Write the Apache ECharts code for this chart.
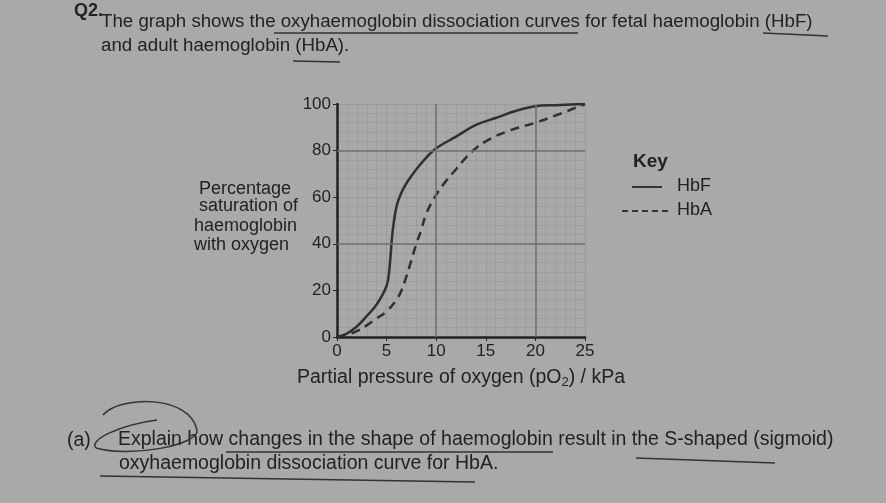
<!DOCTYPE html>
<html><head><meta charset="utf-8">
<script src="https://cdn.jsdelivr.net/npm/echarts@6/dist/echarts.min.js"></script>
<style>html,body{margin:0;padding:0;background:#a9a9a9;}#c{width:886px;height:503px;}</style>
</head><body><div id="c"></div>
<script>
const xTicks = [0, 5, 10, 15, 20, 25];
const yTicks = [0, 20, 40, 60, 80, 100];
const hbfX = [0, 1, 2, 3, 4, 5, 5.3, 5.6, 6, 6.5, 7, 8, 9, 10, 12, 14, 16, 18, 20, 22, 25];
const hbfY = [0, 1.5, 4.5, 9, 14, 22, 30, 45, 56, 62, 66, 72, 77, 81, 86, 91, 94, 97, 99, 99.5, 100];
const hbaX = [0, 1, 2, 3, 4, 5, 6, 6.5, 7, 7.5, 8, 8.5, 9, 10, 11, 12, 13, 14, 15, 17, 20, 22, 25];
const hbaY = [0, 1, 2.5, 5, 8, 11, 16, 20, 26, 33, 40, 46, 53, 61, 67, 72, 77, 81, 84, 88, 92, 95, 100];
const heavyX = [10, 20];
const heavyY = [40, 80];

const ink = '#222';
const font = 'Liberation Sans, Arial, sans-serif';
const chart = echarts.init(document.getElementById('c'));
const pair = (xs, ys) => xs.map((x, i) => [x, ys[i]]);
const T = (x, y, text, extra) => Object.assign({type: 'text', left: x, top: y, style: Object.assign({text: text, fill: ink, font: '18px ' + font}, extra || {})});
const L = (x1, y1, x2, y2, w) => ({type: 'line', shape: {x1, y1, x2, y2}, style: {stroke: '#333', lineWidth: w || 1.5}});
const B = (x1, y1, cpx1, cpy1, cpx2, cpy2, x2, y2) => ({type: 'bezierCurve', shape: {x1, y1, cpx1, cpy1, cpx2, cpy2, x2, y2}, style: {fill: 'none', stroke: '#333', lineWidth: 1.5}});

chart.setOption({
  backgroundColor: '#a9a9a9',
  animation: false,
  grid: {left: 337, right: 301, top: 104, bottom: 166},
  xAxis: {
    type: 'value', min: 0, max: 25, interval: 5,
    axisLine: {show: true, onZero: false, lineStyle: {color: ink, width: 2.5}},
    axisTick: {show: true, length: 4, lineStyle: {color: ink}},
    axisLabel: {color: ink, fontSize: 17, fontFamily: font, margin: 6, formatter: v => xTicks.includes(v) ? String(v) : ''},
    splitLine: {show: true, lineStyle: {color: '#999', width: 1}},
    minorTick: {show: false, splitNumber: 5},
    minorSplitLine: {show: true, lineStyle: {color: '#9d9d9d', width: 1}}
  },
  yAxis: {
    type: 'value', min: 0, max: 100, interval: 20,
    axisLine: {show: true, lineStyle: {color: ink, width: 2.5}},
    axisTick: {show: true, length: 4, lineStyle: {color: ink}},
    axisLabel: {color: ink, fontSize: 17, fontFamily: font, margin: 6, formatter: v => yTicks.includes(v) ? String(v) : ''},
    splitLine: {show: true, lineStyle: {color: '#999', width: 1}},
    minorTick: {show: false, splitNumber: 5},
    minorSplitLine: {show: true, lineStyle: {color: '#9d9d9d', width: 1}}
  },
  series: [
    {
      name: 'HbF', type: 'line', data: pair(hbfX, hbfY), smooth: 0.4, showSymbol: false,
      lineStyle: {color: '#303030', width: 2.5},
      markLine: {
        silent: true, symbol: 'none', label: {show: false},
        lineStyle: {color: '#707070', type: 'solid', width: 1.5},
        data: heavyX.map(v => ({xAxis: v})).concat(heavyY.map(v => ({yAxis: v})))
      }
    },
    {
      name: 'HbA', type: 'line', data: pair(hbaX, hbaY), smooth: 0.4, showSymbol: false,
      lineStyle: {color: '#303030', width: 2.5, type: [9, 6]}
    }
  ],
  graphic: [
    T(74, 2, 'Q2.', {font: 'bold 18px ' + font}),
    T(101, 12, 'The graph shows the oxyhaemoglobin dissociation curves for fetal haemoglobin (HbF)', {font: '18.7px ' + font}),
    T(101, 36, 'and adult haemoglobin (HbA).', {font: '18.7px ' + font}),
    L(274, 33, 578, 33), L(763, 33, 828, 36), L(293, 61, 340, 62),
    T(199, 180, 'Percentage'),
    T(199, 197, 'saturation of'),
    T(194, 217, 'haemoglobin'),
    T(194, 236, 'with oxygen'),
    T(633, 152, 'Key', {font: 'bold 19px ' + font}),
    L(632, 187, 662, 187, 2),
    T(677, 177, 'HbF'),
    {type: 'line', shape: {x1: 622, y1: 211, x2: 668, y2: 211}, style: {stroke: '#333', lineWidth: 2, lineDash: [6, 4]}},
    T(677, 201, 'HbA'),
    {type: 'text', left: 297, top: 368, style: {rich: {n: {fill: ink, font: '19.5px ' + font}, s: {fill: ink, font: '13px ' + font, padding: [9, 0, 0, 0]}}, text: '{n|Partial pressure of oxygen (pO}{s|2}{n|) / kPa}'}},
    T(67, 431, '(a)', {font: '19.5px ' + font}),
    T(118, 430, 'Explain how changes in the shape of haemoglobin result in the S-shaped (sigmoid)', {font: '19.5px ' + font}),
    T(119, 454, 'oxyhaemoglobin dissociation curve for HbA.', {font: '19.5px ' + font}),
    L(226, 452, 553, 452), L(636, 458, 775, 463), L(100, 476, 475, 482),
    B(103, 415, 120, 395, 190, 395, 197, 430),
    B(197, 430, 200, 445, 130, 458, 96, 448),
    B(96, 448, 88, 440, 120, 425, 157, 420)
  ]
});
</script></body></html>
